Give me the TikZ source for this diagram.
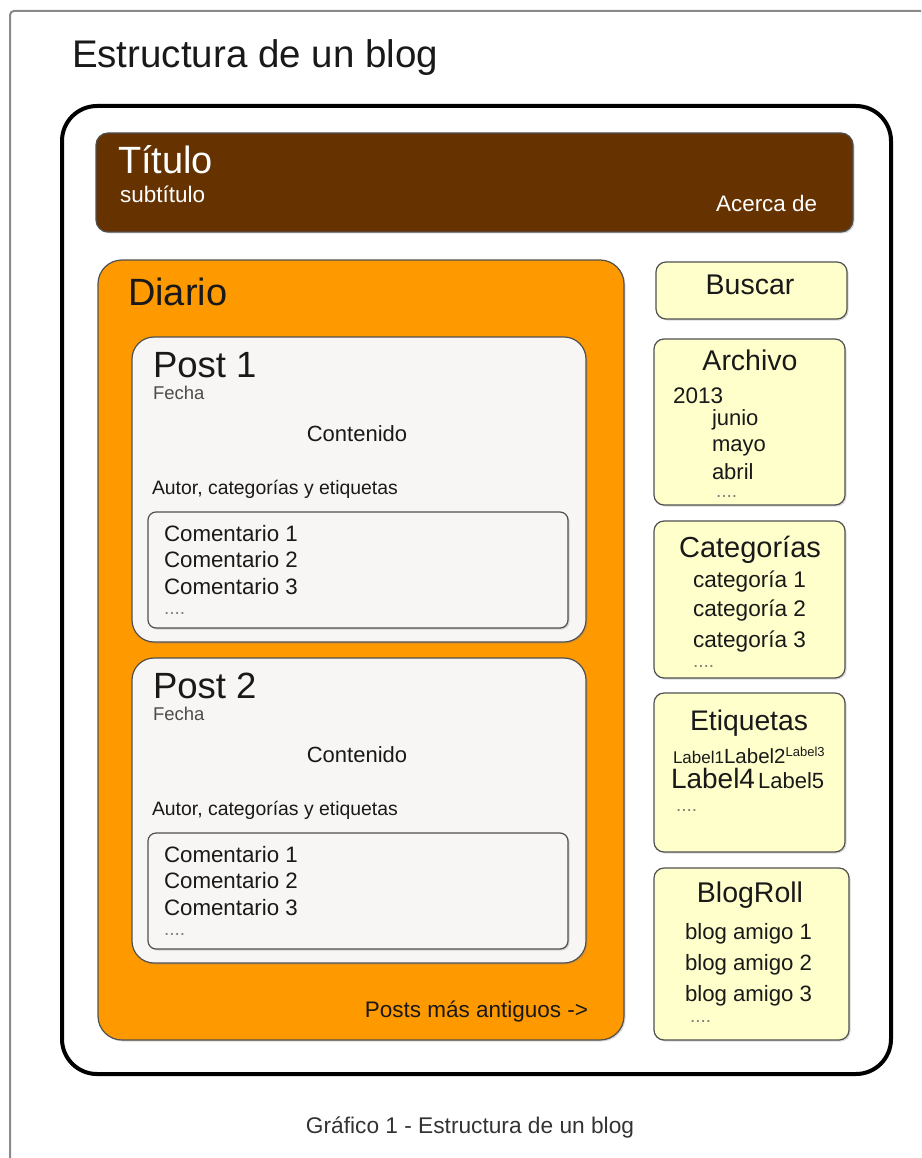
\documentclass[tikz,border=0pt]{standalone}
\usepackage{fontspec}
\setmainfont{Liberation Sans}
\usetikzlibrary{positioning,shadows}
\definecolor{marron}{HTML}{663300}
\definecolor{naranja}{HTML}{FF9900}
\definecolor{postgris}{HTML}{F7F6F4}
\definecolor{crema}{HTML}{FFFFCC}
\definecolor{borde}{HTML}{505050}
\definecolor{marco}{HTML}{8A8A8A}
\tikzset{
tam/.style={font=\fontsize{#1}{#1}\selectfont, inner sep=0pt, outer sep=0pt, text=black!90},
sombra/.style={drop shadow={shadow xshift=1.5pt, shadow yshift=-1.5pt, opacity=0.3}},
caja/.style={draw=borde, line width=1.2pt, anchor=north west, inner sep=0pt, outer sep=0pt, sombra},
postcaja/.style={caja, fill=postgris, rounded corners=22pt, minimum width=454pt, minimum height=305pt},
comcaja/.style={caja, fill=postgris, rounded corners=8pt, minimum width=420pt, minimum height=116pt, sombra/.style={}},
lateral/.style={caja, fill=crema, rounded corners=10pt},
puntos/.style={tam=19, text=black!50, anchor=base west}
}
\begin{document}
\begin{tikzpicture}[x=1pt,y=-1pt]
\useasboundingbox (0,0) rectangle (921,1158);
% marco exterior
\draw[marco, line width=2pt, rounded corners=4pt] (10,1158) -- (10,11) -- (921,11);
\node[tam=38.5, anchor=base west] (encabezado) at (72,68) {Estructura de un blog};
% pagina del blog
\node[draw, line width=4pt, anchor=north west, minimum width=829pt, minimum height=968pt,
  rounded corners=35pt, inner sep=0pt, outer sep=0pt, fill=white, sombra] (pagina) at (62,106) {};
\node[caja, fill=marron, rounded corners=12pt, minimum width=757pt, minimum height=99pt] (cabecera) at (96,133) {};
\node[tam=38, text=white, anchor=base west] (titulo) at (118,174) {Título};
\node[tam=22.5, text=white, anchor=base west] (subtitulo) at (120,203) {subtítulo};
\node[tam=22.4, text=white, anchor=base east] (acerca) at (817,212) {Acerca de};
% diario
\node[caja, fill=naranja, rounded corners=24pt, minimum width=526pt, minimum height=780pt] (diario) at (98,260) {};
\node[tam=38, anchor=base west] (diariotit) at (128,305) {Diario};
\foreach \i/\y in {1/337,2/658}{
  \node[postcaja] (post\i) at (132,\y) {};
  \node[tam=36.5, anchor=base west] (posttit\i) at (153,\y+40) {Post \i};
  \node[tam=18.5, text=black!70, anchor=base west] (fecha\i) at (153,\y+62) {Fecha};
  \node[tam=22, anchor=base] (contenido\i) at (357,\y+104) {Contenido};
  \node[tam=19.4, anchor=base west] (autor\i) at (152,\y+157) {Autor, categorías y etiquetas};
  \node[comcaja] (coment\i) at (148,\y+175) {};
  \foreach \c/\d in {1/204,2/230,3/257}
    \node[tam=22.3, anchor=base west] (com\i\c) at (164,\y+\d) {Comentario \c};
  \node[puntos] (compuntos\i) at (164,\y+277) {....};
}
\node[tam=22.5, anchor=base east] (antiguos) at (588,1017) {Posts más antiguos ->};
% barra lateral
\node[lateral, minimum width=191pt, minimum height=57pt] (buscar) at (656,262) {};
\node[tam=28.5, anchor=base] (buscartit) at (750,294) {Buscar};
\node[lateral, minimum width=191pt, minimum height=166pt] (archivo) at (654,339) {};
\node[tam=28.5, anchor=base] (archivotit) at (750,370) {Archivo};
\node[tam=22.5, anchor=base west] (anio) at (673,403) {2013};
\foreach \m/\d in {junio/425,mayo/451,abril/479}
  \node[tam=22, anchor=base west] (\m) at (712,\d) {\m};
\node[puntos] (archpuntos) at (716,497) {....};
\node[lateral, minimum width=191pt, minimum height=157pt] (categorias) at (654,521) {};
\node[tam=29, anchor=base] (cattit) at (750,557) {Categorías};
\foreach \c/\d in {1/587,2/616,3/647}
  \node[tam=22.6, anchor=base west] (cat\c) at (693,\d) {categoría \c};
\node[puntos] (catpuntos) at (693,667) {....};
\node[lateral, minimum width=191pt, minimum height=159pt] (etiquetas) at (654,693) {};
\node[tam=28.3, anchor=base] (etiqtit) at (749,730) {Etiquetas};
\node[tam=17, anchor=base west] (lab1) at (673,763) {Label1};
\node[tam=20.5, anchor=base west] (lab2) at (lab1.base east) {Label2};
\node[tam=13, anchor=north west] (lab3) at ([yshift=1pt]lab2.north east) {Label3};
\node[tam=28, anchor=base west] (lab4) at (671,788) {Label4};
\node[tam=22, right=3pt of lab4.base east, anchor=base west] (lab5) {Label5};
\node[puntos] (etiqpuntos) at (676,811) {....};
\node[lateral, minimum width=195pt, minimum height=172pt] (blogroll) at (654,868) {};
\node[tam=28.5, anchor=base] (rolltit) at (750,902) {BlogRoll};
\foreach \c/\d in {1/939,2/970,3/1001}
  \node[tam=22.2, anchor=base west] (amigo\c) at (685,\d) {blog amigo \c};
\node[puntos] (rollpuntos) at (690,1022) {....};
% pie
\node[tam=22.7, text=black!80, anchor=base] (pie) at (470,1133) {Gráfico 1 - Estructura de un blog};
\end{tikzpicture}
\end{document}
